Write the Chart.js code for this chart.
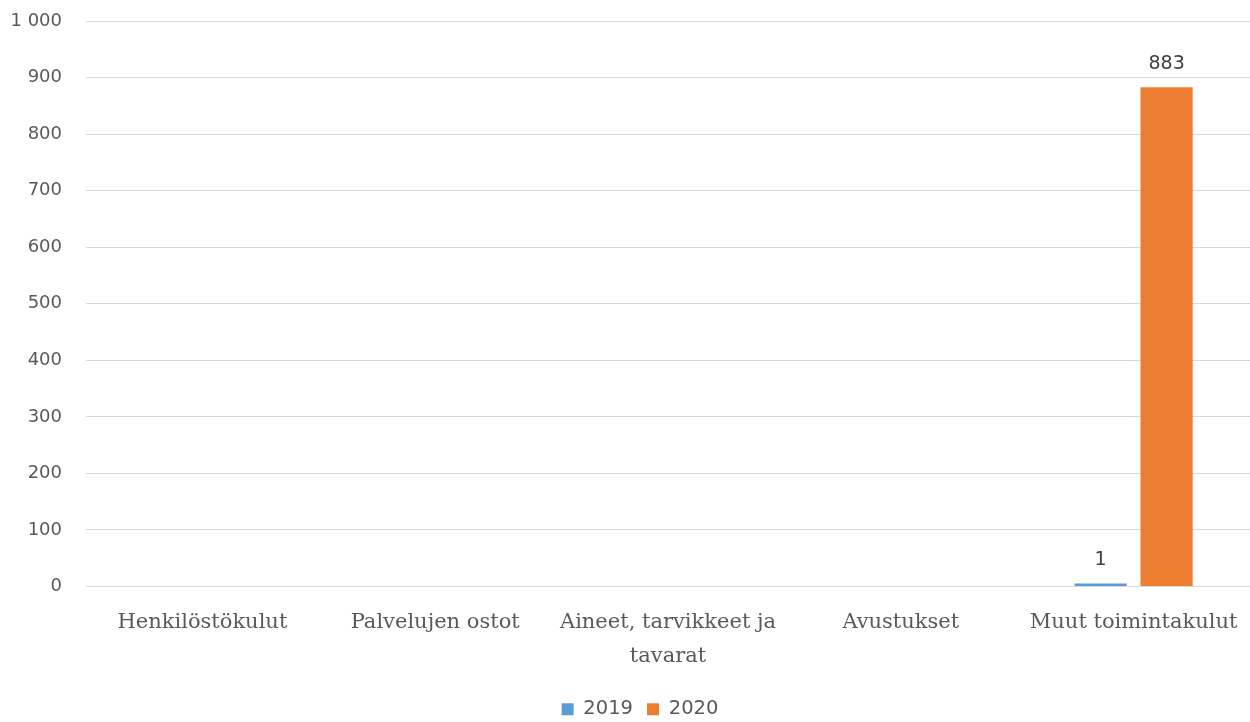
<!DOCTYPE html>
<html>
<head>
<meta charset="utf-8">
<script src="https://cdn.jsdelivr.net/npm/chart.js@4"></script>
<style>
html,body{margin:0;padding:0;background:#fff;}
#wrap{width:1250px;height:722px;position:relative;}
</style>
</head>
<body>
<div id="wrap"><canvas id="c" width="1250" height="722"></canvas></div>
<script>
const categories = ["Henkilöstökulut", "Palvelujen ostot", ["Aineet, tarvikkeet ja", "tavarat"], "Avustukset", "Muut toimintakulut"];
const values2019 = [null, null, null, null, 1];
const values2020 = [null, null, null, null, 883];
const seriesNames = ["2019", "2020"];
const yTicks = { min: 0, max: 1000, step: 100 };

function fmt(v){ return String(v).replace(/\B(?=(\d{3})+(?!\d))/g, " "); }

const labelPlugin = {
  id: 'barLabels',
  afterDatasetsDraw(chart){
    const ctx = chart.ctx;
    ctx.save();
    ctx.font = '19px "DejaVu Sans"';
    ctx.fillStyle = '#404040';
    ctx.textAlign = 'center';
    ctx.textBaseline = 'bottom';
    chart.data.datasets.forEach((ds, i) => {
      const meta = chart.getDatasetMeta(i);
      meta.data.forEach((bar, j) => {
        const v = ds.data[j];
        if (v === null || v === undefined) return;
        ctx.fillText(fmt(v), bar.x, bar.y - 14);
      });
    });
    ctx.restore();
  }
};

new Chart(document.getElementById('c'), {
  type: 'bar',
  data: {
    labels: categories,
    datasets: [
      { label: seriesNames[0], data: values2019, backgroundColor: '#5b9bd5', minBarLength: 3,
        categoryPercentage: 0.567, barPercentage: 0.79 },
      { label: seriesNames[1], data: values2020, backgroundColor: '#ed7d31', minBarLength: 3,
        categoryPercentage: 0.567, barPercentage: 0.79 }
    ]
  },
  options: {
    responsive: false,
    animation: false,
    layout: { padding: { left: 30, right: 0, top: 0, bottom: -7 } },
    plugins: {
      legend: {
        position: 'bottom',
        labels: {
          boxWidth: 12, boxHeight: 12, padding: 14,
          color: '#595959',
          font: { family: '"DejaVu Sans"', size: 19.5 }
        }
      },
      tooltip: { enabled: false }
    },
    scales: {
      x: {
        grid: { display: false, drawTicks: false },
        border: { display: false },
        afterFit: s => { s.height = 99; s.paddingLeft = 0; s.paddingRight = 0; },
        ticks: {
          color: '#595959', padding: 19, maxRotation: 0, autoSkip: false,
          font: { family: '"DejaVu Serif"', size: 21, lineHeight: 1.62 }
        }
      },
      y: {
        min: yTicks.min, max: yTicks.max,
        afterFit: s => {
          s.width = 56; s.paddingTop = 21; s.paddingBottom = 0;
          s._computeLabelArea = () => undefined;
        },
        grid: { color: '#d9d9d9', lineWidth: 1, drawTicks: false },
        border: { display: false },
        ticks: {
          stepSize: yTicks.step, padding: 24, color: '#595959',
          font: { family: '"DejaVu Sans"', size: 18 },
          callback: v => fmt(v)
        }
      }
    }
  },
  plugins: [labelPlugin]
});
</script>
</body>
</html>
